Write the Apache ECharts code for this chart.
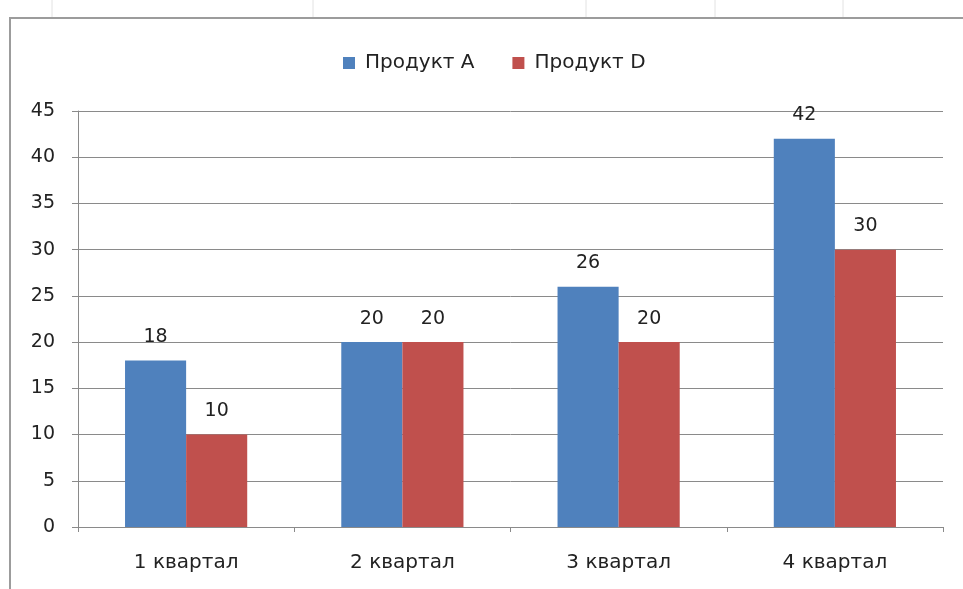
<!DOCTYPE html>
<html>
<head>
<meta charset="utf-8">
<script src="https://cdn.jsdelivr.net/npm/echarts@6/dist/echarts.min.js"></script>
<style>
  html, body { margin: 0; padding: 0; background: #ffffff; }
  #chart { width: 963px; height: 589px; }
</style>
</head>
<body>
<div id="chart"></div>
<script>
const categories = ["1 квартал", "2 квартал", "3 квартал", "4 квартал"];
const seriesNames = ["Продукт A", "Продукт D"];
const productA = [18, 20, 26, 42];
const productD = [10, 20, 20, 30];

const font = "DejaVu Sans";
const textColor = "#222222";
const lineColor = "#8a8a8a";

const chart = echarts.init(document.getElementById("chart"), null, { renderer: "canvas" });

const labelStyle = {
  show: true,
  position: "top",
  distance: 14,
  fontFamily: font,
  fontSize: 19,
  color: textColor
};

chart.setOption({
  animation: false,
  backgroundColor: "#ffffff",
  graphic: [
    // faint spreadsheet cell lines behind the chart object
    { type: "line", shape: { x1: 52, y1: 0, x2: 52, y2: 18 }, style: { stroke: "#e2e2e2", lineWidth: 1 } },
    { type: "line", shape: { x1: 313, y1: 0, x2: 313, y2: 18 }, style: { stroke: "#e2e2e2", lineWidth: 1 } },
    { type: "line", shape: { x1: 586, y1: 0, x2: 586, y2: 18 }, style: { stroke: "#e2e2e2", lineWidth: 1 } },
    { type: "line", shape: { x1: 715, y1: 0, x2: 715, y2: 18 }, style: { stroke: "#e2e2e2", lineWidth: 1 } },
    { type: "line", shape: { x1: 843, y1: 0, x2: 843, y2: 18 }, style: { stroke: "#e2e2e2", lineWidth: 1 } },
    // chart object frame
    {
      type: "rect",
      shape: { x: 10, y: 18, width: 1000, height: 700 },
      style: { fill: "none", stroke: "#9c9c9c", lineWidth: 2 },
      z: 10
    }
  ],
  legend: {
    top: 48,
    left: 338,
    itemWidth: 12,
    itemHeight: 12,
    itemGap: 38,
    icon: "rect",
    textStyle: { fontFamily: font, fontSize: 20, color: textColor, padding: [0, 0, 0, 5] },
    data: seriesNames
  },
  grid: {
    left: 78,
    right: 20,
    top: 111,
    bottom: 62,
    containLabel: false
  },
  xAxis: {
    type: "category",
    data: categories,
    axisLine: { lineStyle: { color: lineColor, width: 1 } },
    axisTick: { show: true, length: 5, lineStyle: { color: lineColor } },
    axisLabel: { fontFamily: font, fontSize: 20, color: textColor, margin: 26 }
  },
  yAxis: {
    type: "value",
    min: 0,
    max: 45,
    interval: 5,
    axisLine: { show: true, lineStyle: { color: lineColor, width: 1 } },
    axisTick: { show: true, length: 6, lineStyle: { color: lineColor } },
    axisLabel: { fontFamily: font, fontSize: 19, color: textColor, margin: 23 },
    splitLine: { lineStyle: { color: lineColor, width: 1 } }
  },
  series: [
    {
      name: seriesNames[0],
      type: "bar",
      data: productA,
      barGap: "0%",
      barCategoryGap: "43.5%",
      itemStyle: { color: "#4f81bd", borderWidth: 0 },
      label: labelStyle
    },
    {
      name: seriesNames[1],
      type: "bar",
      data: productD,
      barGap: "0%",
      barCategoryGap: "43.5%",
      itemStyle: { color: "#c0504d", borderWidth: 0 },
      label: labelStyle
    }
  ]
});
</script>
</body>
</html>
